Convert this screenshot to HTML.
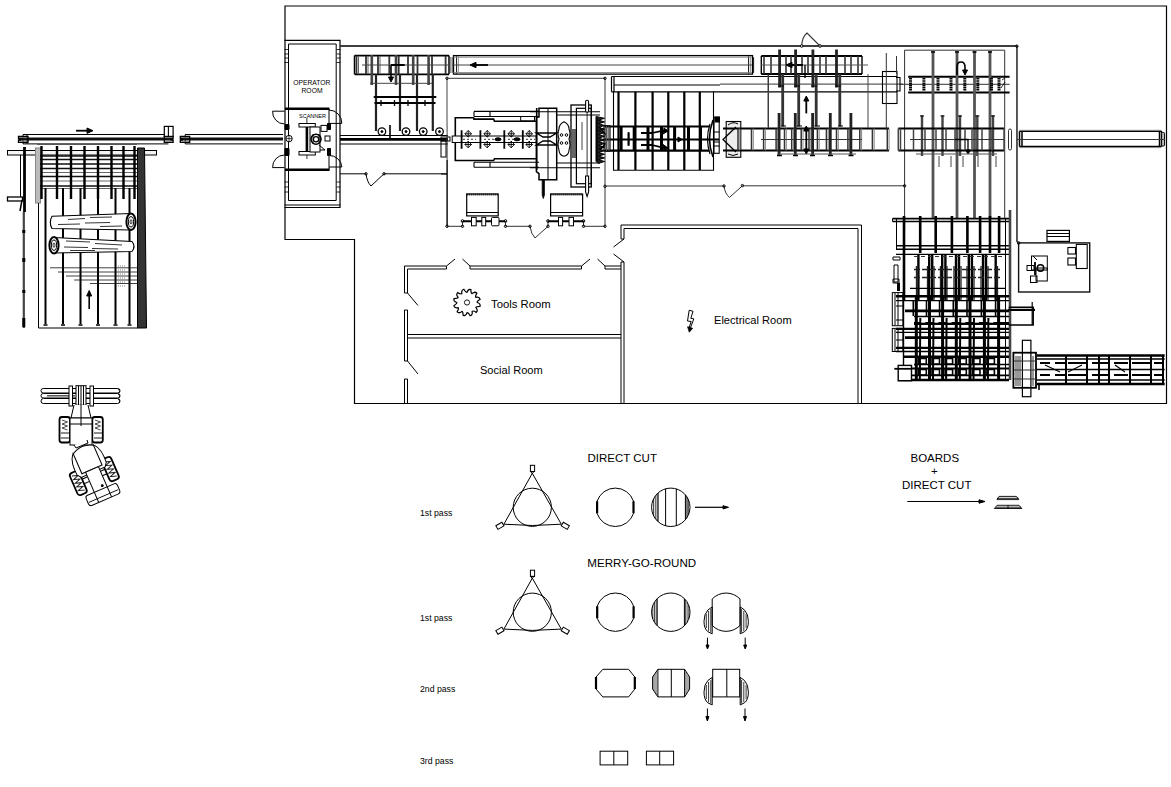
<!DOCTYPE html>
<html><head><meta charset="utf-8">
<style>
html,body{margin:0;padding:0;background:#fff;}
body{width:1171px;height:787px;overflow:hidden;}
svg{display:block;}
text{font-family:"Liberation Sans",sans-serif;fill:#000;}
</style></head><body>
<svg width="1171" height="787" viewBox="0 0 1171 787">
<rect width="1171" height="787" fill="#fff"/>
<g fill="none" stroke="#000" stroke-width="1">
<!-- BUILDING OUTLINE -->
<path d="M285 239.5 V6 H1166.5 V403.5 H354.5 V239.5 Z" stroke-width="1.2"/>
<!-- interior top line -->
<path d="M340 46 H1017 V242"/>
<!-- ROOMS -->
<path d="M621 262 V403 M624 262 V403 M621 225 H861.5 V403 M624 239 V228.5 H858 V403 M621 225 V239"/>
<path d="M404.5 266 V293 M407.5 269 V293 M404.5 310 V361 M407.5 310 V361 M404.5 379 V403 M407.5 379 V403"/>
<path d="M404.5 266 H446.5 M407.5 269 H446.5 M470 266 H581.5 M470 269 H581.5 M605 266 H621 M605 269 H621"/>
<path d="M407.5 334.5 H621 M407.5 338 H621"/>
<path d="M404.5 293 H407.5 M404.5 310 H407.5 M404.5 361 H407.5 M404.5 379 H407.5 M446.5 266 V269 M470 266 V269 M581.5 266 V269 M605 266 V269 M621 239 H624 M621 262 H624" stroke-width="1"/>
<path d="M407.5 293 L418 305.5 M407.5 361 L418 374 M446.5 266 L455 259 M462.5 259 L470 266 M581.5 266 L590 259 M597.5 259 L605 266 M624 239 L613.5 247 M613.5 254 L624 262"/>
</g>
<text x="491" y="308" font-size="11.3">Tools Room</text>
<text x="480" y="374" font-size="11.05">Social Room</text>
<text x="714" y="324" font-size="11.1">Electrical Room</text>
<text x="293.2" y="85" font-size="6.75" fill="#222">OPERATOR</text>
<text x="301.5" y="93" font-size="6.75" fill="#222">ROOM</text>
<text x="299" y="117.5" font-size="5.5" fill="#222">SCANNER</text>
<text x="587.5" y="462" font-size="11.5">DIRECT CUT</text>
<text x="587.3" y="566.5" font-size="11.6">MERRY-GO-ROUND</text>
<text x="910.5" y="461.5" font-size="11.5">BOARDS</text>
<text x="931" y="475" font-size="11.5">+</text>
<text x="902" y="488.5" font-size="11.5">DIRECT CUT</text>
<text x="420" y="516" font-size="8.7">1st pass</text>
<text x="420" y="621" font-size="8.7">1st pass</text>
<text x="420" y="692" font-size="8.7">2nd pass</text>
<text x="420" y="764" font-size="8.7">3rd pass</text>

<!-- LEFT INFEED DECK -->
<g fill="none" stroke="#000" stroke-width="1">
<path d="M23 134.5 H164.3 M23 143.9 H168.4 M23 134.5 V143.9 M27 134.5 V143.9" />
<path d="M18.5 139 H173" stroke-width="3.2" stroke="#111"/>
<path d="M18.5 136.4 H28 V142.4 H18.5 V140.2 H20.5 V138.7 H18.5 Z" fill="none" stroke-width="1.3"/>
<path d="M19.5 137.6 H27 M19.5 141.3 H27" stroke="#777" stroke-width="0.8"/>
<path d="M164.3 136.4 H173.1 V138.7 H171 V140.2 H173.1 V142.4 H164.3 Z" fill="none" stroke-width="1.3"/>
<path d="M165.5 137.6 H172 M165.5 141.3 H172" stroke="#777" stroke-width="0.8"/>
<rect x="164.3" y="126.4" width="8.8" height="10" fill="#fff" stroke-width="1.2"/>
<path d="M168.4 126.4 V136.4" stroke-width="1.1"/>
<rect x="7.5" y="150.5" width="149" height="4.5" fill="#f4f4f4"/>
<rect x="7.5" y="197" width="15" height="4" fill="#fff" stroke-width="1.3"/>
<path d="M20.5 155 V197" />
<path d="M24.5 147 V212" stroke-width="2.8"/><path d="M23.8 212 V328" stroke-width="2.2" stroke="#444"/><path d="M23.8 230 V233 M23.8 258 V262 M23.8 290 V293 M23.8 318 V327" stroke-width="3" stroke="#000"/>
<path d="M22 200 L20 211" stroke-width="1.5"/>
<rect x="35.5" y="148" width="5" height="55" fill="#bbb" stroke="#888"/>
<path d="M38.5 203 V328 H138" />
<path d="M37 144.5 H137" stroke="#555"/>
<path d="M40 156 H137 M40 159.5 H137 M40 164 H137 M40 168.5 H137 M40 176.5 H137 M40 186 H137" stroke="#111" stroke-width="1.5"/><path d="M40 172.5 H137 M40 181 H137 M40 188.5 H137" stroke="#666" stroke-width="1"/>
<path d="M41.5 146 V199 M57 146 V199 M71 146 V199 M84.5 146 V199 M98 146 V199 M111.5 146 V199 M123.5 146 V199 M134.5 146 V199" stroke-width="2.4"/>
<path d="M45.5 188 V324 M63 188 V324 M80.5 188 V324 M98 188 V324 M115.5 188 V324 M129.5 188 V324" stroke-width="2"/>
<path d="M43.5 325 H47.5 M61 325 H65 M78.5 325 H82.5 M96 325 H100 M113.5 325 H117.5 M127.5 325 H131.5" stroke-width="1.5"/>
<path d="M137.5 148 H144.5 L146.5 328 H137.5 Z" fill="#333" stroke="#000"/>
<path d="M50 267.8 H137 M58 272 H137 M66 276 H137 M74 280 H137 M90 283.5 H137" stroke-width="0.8" stroke="#111"/><path d="M118 266 H126 M118 270 H126 M118 274 H126 M118 278 H126 M118 282 H126 M118 286 H126" stroke="#888" stroke-width="1" stroke-dasharray="1 1"/>
<path d="M89.2 309 V295" stroke-width="1.6"/>
<path d="M86.7 296 L89.2 290.5 L91.7 296 Z" fill="#000"/>
<path d="M76 130.7 H88" stroke-width="1.8"/>
<path d="M87 128 L93 130.7 L87 133.4 Z" fill="#000"/>
<!-- logs -->
<path d="M52 216.2 L131 213.5 L131 230 L52 228.5 Q48.5 222.3 52 216.2 Z" fill="#fff" stroke-width="1.1"/>
<ellipse cx="131" cy="221.8" rx="4.6" ry="8.2" fill="#fff" stroke-width="2"/>
<ellipse cx="131" cy="221.8" rx="2.6" ry="5.2" stroke-width="1"/>
<ellipse cx="131" cy="221.8" rx="1" ry="2.2" stroke-width="0.8"/>
<path d="M68 219.5 L85 218.5 M90 217.5 L112 217 M58 224.5 L80 224 M85 223 L110 222.5 M100 226.5 L122 226" stroke-width="0.8"/>
<path d="M54 237.5 L132 241.5 Q136 246.5 132 251.5 L54 253 Z" fill="#fff" stroke-width="1.1"/>
<ellipse cx="54" cy="245.2" rx="4.6" ry="8.2" fill="#fff" stroke-width="2"/>
<ellipse cx="54" cy="245.2" rx="2.6" ry="5.2" stroke-width="1"/>
<ellipse cx="54" cy="245.2" rx="1" ry="2.2" stroke-width="0.8"/>
<path d="M66 241 L90 242 M95 243.5 L122 245 M64 247 L88 247.5 M92 248.5 L118 249 M70 250.5 L95 250.5" stroke-width="0.8"/>
</g>
<!-- SECOND CONVEYOR -->
<g fill="none" stroke="#000" stroke-width="1">
<path d="M185.2 134.5 H283 M185.2 143.9 H283 M185.2 134.5 V143.9" />
<path d="M180.3 139 H283" stroke-width="3.2" stroke="#111"/>
<path d="M180.3 136.4 H189.7 V142.4 H180.3 V140.2 H182.3 V138.7 H180.3 Z" fill="none" stroke-width="1.3"/>
<path d="M181.5 137.6 H189 M181.5 141.3 H189" stroke="#777" stroke-width="0.8"/>
</g>

<!-- OPERATOR ROOM -->
<g fill="none" stroke="#000" stroke-width="1">
<path d="M284.5 40.3 H340 V207.5 H284.5" stroke-width="1.2"/>
<path d="M288.5 200.5 V44 H336.2 V200.5 H288.5"/>
<path d="M284.5 205 H340.5"/>
<path d="M284.5 49.5 H288.5 M284.5 54 H288.5 M284.5 58 H288.5 M284.5 62.5 H288.5 M336.5 49.5 H340.5 M336.5 54 H340.5 M336.5 58 H340.5 M336.5 62.5 H340.5" stroke-width="0.8"/>
<path d="M284.5 182 H288.5 M284.5 187 H288.5 M284.5 192 H288.5 M336.5 182 H340.5 M336.5 187 H340.5 M336.5 192 H340.5" stroke-width="0.8"/>
<path d="M285 108.8 H329.5 M285 169.7 H329.5" stroke-width="2.4"/>
<path d="M329 109 V124 M329 155 V170"/>
<path d="M327.5 123.5 H330.5 V129.5 H327.5 Z M327.5 148.5 H330.5 V155.5 H327.5 Z M285 124.5 H289 V129.5 H285 Z M285 148.5 H289 V155.5 H285 Z" fill="#000"/>
<path d="M284.5 111.2 H272.6 A12 12 0 0 0 284.5 124"/>
<path d="M284.5 167.6 H272.6 A12 12 0 0 1 284.5 155"/>
<path d="M329 110 A13 13 0 0 1 341.8 123.4 H329"/>
<path d="M329 155.4 A13 12 0 0 1 341.8 167 H329"/>
<circle cx="289" cy="138.6" r="3.2" fill="#fff"/>
<path d="M286 138.6 H292 M289 135.5 V141.5" stroke-width="0.7"/>
<!-- scanner machine -->
<path d="M306.9 123.4 V153" stroke-width="2.6"/>
<path d="M306.9 118 V159" stroke-width="0.8"/>
<rect x="299" y="123.5" width="16.3" height="3.5" fill="#fff"/>
<rect x="299" y="151.5" width="16.3" height="3.5" fill="#fff"/>
<rect x="310" y="127" width="10" height="25" fill="#fff"/>
<circle cx="316" cy="139.2" r="5" stroke-width="1.6"/>
<circle cx="316" cy="139.2" r="2.6" stroke-width="1.2"/>
<path d="M313 134 V144 M319 134 V144" stroke-width="0.8"/>
<rect x="321" y="125.4" width="6" height="6"/>
<rect x="325" y="136" width="5" height="5"/>
<path d="M319 145 L325 150 H320"/>
</g>
<g fill="none" stroke="#000" stroke-width="1">
<path d="M340.5 46 H1017" />
<path d="M340 135.5 H448 M340 144 H448" />
<path d="M340 139.3 H448" stroke-width="2.8"/>
<path d="M340 173.8 H366 Q367 182 371 186 L384 173.8 H447" />
<circle cx="366" cy="173.8" r="1.2"/><circle cx="384" cy="173.8" r="1.2"/>

</g>

<!-- TOP-LEFT EQUIPMENT BLOCK -->
<g fill="none" stroke="#000" stroke-width="1">
<path d="M354.5 55.6 H449 M354.5 74.3 H449" stroke-width="1.8"/>
<path d="M354.5 55.6 V74.3 M449 55.6 V74.3" stroke-width="1.5"/>
<path d="M356.5 56 V74 M366 56 V74 M378 56 V74 M389.3 56 V74 M398.7 56 V74 M408 56 V74 M417.5 56 V74 M432 56 V74 M445.6 56 V74" stroke="#333" stroke-width="1.8"/><path d="M358.5 56 V74 M368 56 V74 M380 56 V74" stroke="#666" stroke-width="1"/>
<path d="M362 65 H449" stroke="#444"/>
<path d="M371.8 55 V85 M396 55 V85 M413.2 55 V85 M428.6 55 V85" stroke="#444" stroke-width="2.6"/>
<path d="M376 74 V131 M400 74 V131 M417 74 V131 M432.8 74 V131" stroke="#222" stroke-width="2.2"/>
<path d="M391 65 H404.7" stroke-width="2"/>
<path d="M391 65 V78" stroke-width="1.6"/>
<path d="M388.5 77 L391 82 L393.5 77 Z" fill="#000"/>
<path d="M370 83.3 H432" stroke="#444"/>
<path d="M374.5 97 H435.5" stroke-width="2" stroke-linecap="round"/>
<path d="M374.5 103 H435.5" stroke-width="1.8"/>
<path d="M381 100 V106 M394.5 100 V106 M408 100 V106 M425 100 V106" stroke-width="1.3"/>
<path d="M447 78 V126" stroke="#444"/>
<circle cx="447" cy="78.3" r="1.2"/>
<path d="M447 78.3 H605 V226.3" stroke="#333"/>
<circle cx="605" cy="78.3" r="1.2"/>
<circle cx="381.9" cy="131.6" r="3.8" stroke-width="1.3" fill="#fff"/>
<circle cx="406" cy="131.6" r="3.8" stroke-width="1.3" fill="#fff"/>
<circle cx="423.2" cy="131.6" r="3.8" stroke-width="1.3" fill="#fff"/>
<circle cx="439.5" cy="131.6" r="3.8" stroke-width="1.3" fill="#fff"/>
<circle cx="381.9" cy="131.6" r="1" fill="#000"/><circle cx="406" cy="131.6" r="1" fill="#000"/><circle cx="423.2" cy="131.6" r="1" fill="#000"/><circle cx="439.5" cy="131.6" r="1" fill="#000"/>
<path d="M390 125 V138" stroke-width="1.6"/>
<path d="M447.1 126 V160" stroke="#444"/>
<path d="M447.1 160 V226.3" stroke-width="1.4"/>
<rect x="441" y="137" width="9" height="4"/>
<rect x="441" y="141" width="5" height="16"/>
<path d="M441 174 H447"/>
</g>
<!-- LONG TOP CONVEYOR -->
<g fill="none" stroke="#000" stroke-width="1">
<rect x="453.5" y="55.6" width="299" height="18.5" stroke-width="1.3"/>
<path d="M456.5 55.6 V74 M748.5 56 V74" stroke="#222"/><path d="M458.3 56 V74 M750.3 56 V74 M453.5 57.2 H751.8 M453.5 72.6 H751.8" stroke="#888"/><path d="M752 57.5 H753.6 V72.5 H752" stroke-width="0.9"/>
<path d="M452 65 H752" stroke="#444"/>
<path d="M474 65 H488" stroke-width="1.8"/>
<path d="M476 62.3 L470 65 L476 67.7 Z" fill="#000"/><path d="M450.8 57 V73 M452.3 57 V73" stroke="#444" stroke-width="0.8"/>
</g>
<!-- HEADRIG -->
<g fill="none" stroke="#000" stroke-width="1">
<path d="M474 111.4 H539 M474 116.5 H539 M474 111.4 V116.5 M490 111.4 V116.5" stroke-width="1.1"/>
<path d="M474 162.3 H539 M474 167.2 H539 M474 162.3 V167.2 M490 162.3 V167.2" stroke-width="1.1"/>
<path d="M474 117.8 H455.3 V160.5 H493.6 L494.5 158.7 H536.5" stroke-width="1.6"/>
<path d="M474 117.8 V119.1 H493.6 L494.5 121.2 H536.5" stroke-width="1.6"/>
<rect x="520.7" y="116.5" width="13.8" height="4.5"/>
<path d="M536.7 108 V170" stroke-width="1.6"/>
<rect x="452.2" y="136" width="84" height="6.5" fill="#fff"/>
<path d="M461.6 130.2 V148.8 M480.4 130.2 V148.8 M504.3 130.2 V148.8 M522.8 130.2 V148.8" stroke-width="1.8"/>
<path d="M463 139.3 H476 M484 139.3 H500 M508 139.3 H518 M526 139.3 H535" stroke-dasharray="2 2" stroke-width="0.8"/>
<g stroke-width="0.9">
<path d="M468.2 130.5 L471.5 133.8 L468.2 137.1 L464.9 133.8 Z M468.2 130.5 V137.1 M464.9 133.8 H471.5"/>
<path d="M468.2 141.2 L471.5 144.5 L468.2 147.8 L464.9 144.5 Z M468.2 141.2 V147.8 M464.9 144.5 H471.5"/>
<path d="M487.2 130.5 L490.5 133.8 L487.2 137.1 L483.9 133.8 Z M487.2 130.5 V137.1 M483.9 133.8 H490.5"/>
<path d="M487.2 141.2 L490.5 144.5 L487.2 147.8 L483.9 144.5 Z M487.2 141.2 V147.8 M483.9 144.5 H490.5"/>
<path d="M511.2 130.5 L514.5 133.8 L511.2 137.1 L507.9 133.8 Z M511.2 130.5 V137.1 M507.9 133.8 H514.5"/>
<path d="M511.2 141.2 L514.5 144.5 L511.2 147.8 L507.9 144.5 Z M511.2 141.2 V147.8 M507.9 144.5 H514.5"/>
<path d="M529.2 130.5 L532.5 133.8 L529.2 137.1 L525.9 133.8 Z M529.2 130.5 V137.1 M525.9 133.8 H532.5"/>
<path d="M529.2 141.2 L532.5 144.5 L529.2 147.8 L525.9 144.5 Z M529.2 141.2 V147.8 M525.9 144.5 H532.5"/>
</g>
<ellipse cx="498" cy="139.3" rx="3" ry="1.5" fill="#000"/>
<ellipse cx="517" cy="139.3" rx="3" ry="1.5" fill="#000"/>
<!-- block 1 -->
<path d="M539 108.3 H556.7 V179.7 H539 V173.7 L536.4 171.7 V117 H539 Z" stroke-width="1.5"/>
<path d="M548 108.3 V179.7"/>
<path d="M536.5 133 H556.7 L550 137 H543 Z M536.5 145 H556.7 L550 141 H543 Z" stroke-width="1.4"/>
<path d="M542.2 179.7 H544.4 V195 L543.3 198.5 L542.2 195 Z" fill="#000" stroke-width="0.8"/>
<path d="M530 111.7 H600 M556.7 115 H600 M556.7 163 H600 M530 167.7 H600" stroke-width="1.1"/>
<!-- ornament -->
<path d="M564 121.7 Q569 124 569 129 Q571 134 569 139 Q571 145 569 150 Q569 155 564 156.3 Q559 155 559 150 Q557 145 559 139 Q557 134 559 129 Q559 124 564 121.7 Z" stroke-width="1.1"/>
<circle cx="561.5" cy="135" r="1.3"/><circle cx="566.5" cy="135" r="1.3"/><circle cx="561.5" cy="143" r="1.3"/><circle cx="566.5" cy="143" r="1.3"/>
<!-- block 2 -->
<rect x="571" y="105" width="20.3" height="82" stroke-width="1.3"/>
<rect x="576.4" y="108.3" width="14.9" height="75.4" stroke-width="1.2"/>
<rect x="585.6" y="100.3" width="3" height="12" rx="1.5" fill="#fff" stroke-width="1.1"/><path d="M587.1 112 V176" stroke-width="0.8"/><path d="M585.6 176 H588.6 V192 L587.1 196.5 L585.6 192 Z" fill="#fff" stroke-width="1.1"/>
<path d="M582 122 V150" stroke="#666" stroke-width="1.2"/>
<path d="M573 129 V158 M575 129 V158" stroke="#333" stroke-width="1.5"/>
<path d="M596 116.5 L604.5 118.3 L598.5 120.1 L604.5 121.9 L598.5 123.7 L604.5 125.5 L598.5 127.3 L604.5 129.1 L598.5 130.9 L604.5 132.7 L598.5 134.5 L604.5 136.3 L598.5 138.1 L604.5 139.9 L598.5 141.7 L604.5 143.5 L598.5 145.3 L604.5 147.1 L598.5 148.9 L604.5 150.7 L598.5 152.5 L604.5 154.3 L598.5 156.1 L604.5 157.9 L598.5 159.7 L604.5 161.5 L598.5 163.3 L596 161.5 Z" fill="#222" stroke-width="1"/><path d="M600 128 L606 135 M600 150 L606 143" stroke-width="1.5"/>
<path d="M597 118 V161" stroke-width="1.2"/>
<rect x="604" y="125.7" width="6" height="25.3" stroke-width="1.1"/>
<path d="M606 125.7 V151 M608 125.7 V151" stroke="#555"/>
<circle cx="605" cy="186.3" r="1.2"/>
<path d="M605 186 H724 Q725 194 729.5 197.4 L742.4 185.8 H905" stroke="#333"/>
<circle cx="724" cy="186" r="1.2"/><circle cx="742.4" cy="185.6" r="1.2"/>
<!-- boxes below headrig -->
<rect x="466.7" y="194" width="31.5" height="21.9" stroke-width="1.2"/>
<path d="M466.7 194.6 H498.2" stroke-width="2" stroke-dasharray="1 1"/>
<path d="M466.7 212.5 H498.2"/>
<rect x="550.6" y="194" width="32" height="21.9" stroke-width="1.2"/>
<path d="M550.6 194.6 H582.6" stroke-width="2" stroke-dasharray="1 1"/>
<path d="M550.6 212.5 H582.6"/>
<path d="M463 221.2 H505 M548 221.2 H583.5" stroke-width="2"/>
<rect x="471.5" y="217.4" width="4.7" height="8.4" fill="#fff"/><rect x="481.8" y="217.4" width="3.9" height="8.4" fill="#fff"/><rect x="491.5" y="217.4" width="7.5" height="8.4" rx="1" fill="#fff"/>
<rect x="558.5" y="217.4" width="4.1" height="8.4" fill="#fff"/><rect x="569" y="217.4" width="4.5" height="8.4" fill="#fff"/>
<circle cx="462.5" cy="221" r="1.3"/><circle cx="505.5" cy="221" r="1.3"/><circle cx="548" cy="221" r="1.3"/><circle cx="583.5" cy="221" r="1.3"/>
<path d="M447 226.3 H462.5 M505.5 226.3 H530 Q531 234 535 238 L548 226.3 M583.5 226.3 H605" stroke="#333"/>
<circle cx="462.5" cy="226.3" r="1.2"/><circle cx="505.5" cy="226.3" r="1.2"/><circle cx="530" cy="226.3" r="1.2"/><circle cx="548" cy="226.3" r="1.2"/><circle cx="583.5" cy="226.3" r="1.2"/><circle cx="605" cy="226.3" r="1.2"/><circle cx="447" cy="226.3" r="1.2"/>
<path d="M462.5 221 V226 M505.5 221 V226 M548 221 V226 M583.5 221 V226" stroke-width="0.8"/>
</g>

<!-- MIDDLE SECTION 605-905 -->
<g fill="none" stroke="#000" stroke-width="1">
<!-- long box -->
<path d="M611.5 76.5 H897 M611.5 91.8 H897 M611.5 76.5 V91.8 M614 77 V91.5" stroke-width="1.2"/>
<path d="M614 85 H720" stroke-width="1.2"/>
<path d="M720 84.1 H903" stroke="#333"/>
<!-- box frame with bars -->
<path d="M613.5 91.8 V170.2 H713.5 V91.8" stroke-width="1.1"/>
<path d="M618.5 91.8 V170 M635.4 91.8 V170 M652.6 91.8 V170 M668.3 91.8 V170 M684.3 91.8 V170 M699.8 91.8 V170" stroke-width="2.2"/>

<!-- conveyor strip -->
<path d="M605 126.5 H709 M605 150.6 H709" stroke-width="2.2"/>
<path d="M605 139.5 H719" stroke-width="2.2"/>
<path d="M606.5 126 V151 M609 126 V151" stroke="#555"/>
<path d="M621.1 126 V151 M634.2 126 V151 M648 126 V151 M661.5 126 V151 M674.6 126 V151 M688.5 126 V151 M700.5 126 V151" stroke-width="3"/>
<path d="M628.6 133 V145" stroke-width="2.2" stroke-linecap="round"/>
<path d="M641 133 H652 Q660 131 667 130.5 M641 145 H652 Q660 147 667 148.5" stroke-width="1.8"/>
<path d="M664 128 L668 131 L663 134 Z M664 150.5 L668 148 L663 144.5 Z" fill="#000"/>
<path d="M678 137 L682 139.5 L678 142 Z" fill="#000"/>
<!-- trimmer -->
<path d="M713 120 Q706 139 713 157" stroke-width="1.6"/>
<path d="M710 124 Q705 139 710 154" stroke-width="1.2"/>
<rect x="714" y="117.3" width="5.2" height="36" stroke-width="1.1"/>
<rect x="715" y="117" width="4.5" height="5" fill="#000"/>
<path d="M714 132 H719.5 M714 142 H719.5 M714 146 H719.5" stroke-width="1"/>
<!-- X box -->
<rect x="726.2" y="121.5" width="14.6" height="35.8" fill="#eee" stroke-width="1.1"/>
<path d="M736 127 L723 139.5 L736 152" stroke-width="1.3"/>
<path d="M728 125 Q733 121 738 124 M728 154 Q733 157 738 154" stroke-width="1"/>
<!-- right conveyor -->
<path d="M723 128.6 H889 M723 150.4 H889" stroke-width="2"/>
<path d="M738 128.6 V150.4 M751.5 128.6 V150.4 M763.6 128.6 V150.4 M776.1 128.6 V150.4 M784.5 128.6 V150.4 M791.7 128.6 V150.4 M801.2 128.6 V150.4 M809 128.6 V150.4 M817.4 128.6 V150.4 M826.4 128.6 V150.4 M836.5 128.6 V150.4 M847.9 128.6 V150.4 M859.8 128.6 V150.4 M872.4 128.6 V150.4 M887.3 128.6 V150.4" stroke="#333" stroke-width="1.5"/><path d="M739.8 128.6 V150.4 M753.3 128.6 V150.4 M765.4 128.6 V150.4 M777.9 128.6 V150.4 M786.3 128.6 V150.4 M793.5 128.6 V150.4 M803.0 128.6 V150.4 M810.8 128.6 V150.4 M819.1999999999999 128.6 V150.4 M828.1999999999999 128.6 V150.4 M838.3 128.6 V150.4 M849.6999999999999 128.6 V150.4 M861.5999999999999 128.6 V150.4 M874.1999999999999 128.6 V150.4 M889.0999999999999 128.6 V150.4" stroke="#888" stroke-width="1"/>
<path d="M761 139.5 H862" stroke="#333"/>
<path d="M768.5 74 V128" stroke="#333"/>
<!-- top right conveyor block -->
<path d="M761.3 56 H862 M761.3 74 H862" stroke-width="1.8"/>
<path d="M761.3 56 V74 M862 56 V74" stroke-width="1.4"/>
<path d="M764 56 V74 M771 56 V74 M786 56 V74 M791 56 V74 M802 56 V74 M808 56 V74 M820 56 V74 M826 56 V74 M845 56 V74 M851 56 V74 M858 56 V74" stroke="#333" stroke-width="1.6"/>
<path d="M761 65 H868" stroke="#555"/>
<path d="M791 65 H803" stroke-width="2"/><path d="M792 62.3 L786 65 L792 67.7 Z" fill="#000"/>
<path d="M805 65 V78" stroke-width="1.4"/>
<path d="M779.6 49.4 V87.5 M795.6 49.4 V87.5 M812.9 49.4 V87.5 M836.5 49.4 V87.5" stroke="#222" stroke-width="2.8"/>
<path d="M782.7 74 V126.4 M798.7 74 V126.4 M816.2 74 V126.4 M839.8 74 V126.4" stroke="#333" stroke-width="2.8"/>
<path d="M778 86 H784 M794 86 H800 M811 86 H817 M835 86 H841 M781 126 H786 M797 126 H802 M814.5 126 H820 M838 126 H843" stroke-width="1.2"/>
<path d="M768 127 V74 M868 74 V128" stroke="#444"/>
<!-- short chains lower -->
<path d="M779.1 113 V156 M795.3 113 V156 M812.6 113 V156 M830.3 113 V156 M850.9 113 V156" stroke="#222" stroke-width="2.8"/><path d="M777 155.5 H782 M793 155.5 H798 M810 155.5 H815 M828 155.5 H833 M848.5 155.5 H853.5" stroke-width="1.5"/>
<path d="M777 154 H856" stroke="#555"/>
<path d="M806.3 113.4 V100" stroke-width="1.8"/>
<path d="M803.8 101 L806.3 96 L808.8 101 Z" fill="#000"/>
<path d="M806.3 130 V150" stroke-width="1.8"/>
<path d="M803.8 131 L806.3 126 L808.8 131 Z M803.8 149 L806.3 154 L808.8 149 Z" fill="#000"/>
<!-- door top -->
<path d="M801.7 46 Q802 37 807 33 L820 46" stroke-width="1.1" stroke="#333"/><circle cx="801.7" cy="46" r="1.3" fill="#fff"/><circle cx="820" cy="46" r="1.3" fill="#fff"/>
<rect x="882.5" y="71.5" width="14.5" height="32" stroke-width="1.1"/>
<path d="M886.3 53 V130 M896.5 56 V74" stroke="#333"/>
<path d="M896 77.5 H900 V91 H896" stroke-width="1.1"/>
</g>

<!-- RIGHT SECTION 880-1017 upper -->
<g fill="none" stroke="#000" stroke-width="1">
<path d="M904.6 50.2 V230" stroke="#333"/>
<path d="M904.4 50.2 H1004.7 V218" stroke="#333"/>
<path d="M908.2 76.7 H1009.6 M908.2 92.4 H1009.6" stroke-width="2"/>
<path d="M900 84.3 H1009.6" stroke="#333"/>
<path d="M933 51 V218 M957 51 V218 M974.5 51 V218 M990 51 V218" stroke="#555" stroke-width="2.8"/>
<path d="M931 52 H935 M955 52 H959 M972.5 52 H976.5 M988 52 H992" stroke-width="1.4"/>
<g stroke-width="3" stroke="#000" stroke-dasharray="1.6 0.6">
<path d="M910.5 78 V91 M923.9 78 V91 M938 78 V91 M951 78 V91 M964.8 78 V91 M977.8 78 V91 M991.5 78 V91 M999 78 V91"/>
</g>
<path d="M1002 80 L1005 78 M1001 88 L1005 82" stroke-width="0.8"/>
<path d="M957 75 V67 Q957 62 961 62 Q965 62 965 67 V71" stroke-width="1.6"/>
<path d="M962.5 70 L965 75 L967.5 70 Z" fill="#000"/>
<path d="M922 115.3 V156 M942.5 115.3 V156 M960 115.3 V156 M977.3 115.3 V156 M993 115.3 V156" stroke="#444" stroke-width="2.4"/>
<path d="M920 116 H924 M940.5 116 H944.5 M958 116 H962 M975.3 116 H979.3 M991 116 H995" stroke-width="1.2"/>
<path d="M898.3 128.6 H1004.2 M898.3 150.4 H1004.2" stroke-width="2"/>
<path d="M898.3 128.6 V150.4 M900.5 128.6 V150.4 M913.5 128.6 V150.4 M925 128.6 V150.4 M936 128.6 V150.4 M946 128.6 V150.4 M955 128.6 V150.4 M965 128.6 V150.4 M972 128.6 V150.4 M982 128.6 V150.4 M992 128.6 V150.4 M1004 128.6 V150.4" stroke="#444" stroke-width="1.5"/>
<path d="M910 139.5 H1004" stroke="#333"/>
<path d="M955 139.5 H968 V150" stroke-width="1.3"/>
<path d="M965.5 150 L968 154 L970.5 150 Z" fill="#000"/>
<path d="M916 154 H997" stroke="#555"/>
<path d="M939 156 V167 M951 156 V167 M963 156 V167 M978 156 V167 M996 156 V167" stroke="#444"/>
<rect x="1008.5" y="129" width="3" height="21" rx="1.5" stroke="#333"/>
<path d="M1016.9 46 V242" stroke="#333"/>
<circle cx="1016.9" cy="46.2" r="1.2"/>
<circle cx="904.6" cy="185.8" r="1.2"/>
<path d="M1019.5 131.3 H1161.6 M1019.5 146.6 H1161.6 M1019.5 131.3 V146.6 M1022 131.3 V146.6 M1159.5 131.3 V146.6 M1161.6 131.3 V146.6" stroke-width="1.5"/><path d="M1019.5 130.3 H1161 M1019.5 147.6 H1161" stroke="#888" stroke-width="1"/><rect x="1161.6" y="132.5" width="3" height="13.5" rx="1" fill="#bbb" stroke-width="1"/>
<path d="M1017 139.5 H1165" stroke="#333"/>
</g>
<!-- RIGHT SECTION lower dense -->
<g fill="none" stroke="#000" stroke-width="1">
<path d="M892.5 218.6 H1009 M892.5 221.5 H1009" stroke-width="1.6"/>
<path d="M892.5 218.6 V221.5" />
<path d="M896 245.7 H1009 M896 249.2 H1009" stroke-width="1.6"/>
<path d="M896 254.4 H1010" stroke-width="1.2"/>
<path d="M896.5 218 V250" />
<path d="M904 216 V300 M920.2 216 V253 M935.7 216 V253 M951.9 216 V253 M967.4 216 V253 M980.1 216 V253 M990 216 V253 M999.1 216 V253" stroke-width="2.6"/>
<path d="M1005.5 218 V380" />
<path d="M1010 210 V380" stroke="#444" stroke-width="2.6"/>
<path d="M918.4 254 V300 M929.2 254 V300 M932.2 254 V300 M942.2 254 V300 M945.4 254 V300 M956 254 V300 M959 254 V300 M968.8 254 V300 M971.9 254 V300 M983 254 V300 M986 254 V300 M995.7 254 V300" stroke-width="2.4"/><path d="M916.5 266 V300 M927.5 266 V300 M934 266 V300 M940.5 266 V300 M947 266 V300 M954 266 V300 M961 266 V300 M967 266 V300 M974 266 V300 M981 266 V300 M988 266 V300 M997.5 266 V300" stroke-width="1.3" stroke="#222"/>
<path d="M914 269.4 H1002 M914 277.4 H1002" stroke="#222" stroke-width="1.5" stroke-dasharray="6 2"/><path d="M914 256.5 H1002" stroke="#333" stroke-width="1.2" stroke-dasharray="4 3"/>
<path d="M910 288.4 H1005" stroke-width="1.4"/>
<path d="M893 257 H900 V260 H893 Z M894 265 H898 V282 H894 Z M893 279 H899 V283 H893 Z" />
<path d="M898.5 283 V291" stroke-width="3"/>
<path d="M896 296.2 H1009" stroke-width="2.6"/><path d="M896 300.6 H1009" stroke-width="1.2"/><path d="M905 310.8 H1009" stroke-width="2.8"/><path d="M914 316.5 H1009" stroke-width="1.6"/><path d="M914 323.5 H1009" stroke-width="3.2"/><path d="M896 328.8 H1009" stroke-width="2.2"/><path d="M896 332.4 H1009" stroke-width="1.2"/><path d="M905 337.6 H1009" stroke-width="2.8"/><path d="M896 347.9 H1009" stroke-width="2.2"/><path d="M896 351.5 H1009" stroke-width="1.4"/><path d="M903 356.8 H1009" stroke-width="2.4"/><path d="M914 364.5 H1009" stroke-width="1.4"/><path d="M911 368.5 H1009" stroke-width="2.2"/><path d="M911 375.3 H1009" stroke-width="1.8"/><path d="M898 380 H1009" stroke-width="2.6"/>
<path d="M916.3 296 V381 M929.5 296 V381 M942.6 296 V381 M956.3 296 V381 M970 296 V381 M984.4 296 V381 M998.6 296 V381" stroke-width="3"/><path d="M920.3 318 L919.8 381 M933.5 318 L933.0 381 M946.6 318 L946.1 381 M960.3 318 L959.8 381 M974 318 L973.5 381 M988.4 318 L987.9 381" stroke-width="2"/><path d="M913.3 300 V316 M926.5 300 V316 M939.6 300 V316 M953.3 300 V316 M967 300 V316 M981.4 300 V316 M995.6 300 V316" stroke-width="1.6"/><g stroke="#fff" stroke-width="1.4"><path d="M921.3 322 H925.3"/><path d="M934.5 322 H938.5"/><path d="M947.6 322 H951.6"/><path d="M961.3 322 H965.3"/><path d="M975 322 H979"/><path d="M989.4 322 H993.4"/></g><g stroke-width="1.6"><path d="M918.8 358.5 H926.3 V364 H918.8 Z M918.8 369.5 H926.3 V375 H918.8 Z"/><path d="M932.0 358.5 H939.5 V364 H932.0 Z M932.0 369.5 H939.5 V375 H932.0 Z"/><path d="M945.1 358.5 H952.6 V364 H945.1 Z M945.1 369.5 H952.6 V375 H945.1 Z"/><path d="M958.8 358.5 H966.3 V364 H958.8 Z M958.8 369.5 H966.3 V375 H958.8 Z"/><path d="M972.5 358.5 H980 V364 H972.5 Z M972.5 369.5 H980 V375 H972.5 Z"/><path d="M986.9 358.5 H994.4 V364 H986.9 Z M986.9 369.5 H994.4 V375 H986.9 Z"/></g>
<rect x="892.3" y="292.6" width="10.6" height="33.1"/>
<path d="M895 293 V325 M898 293 V325"/>
<rect x="892.3" y="328.4" width="10.6" height="23.1"/>
<path d="M895 329 V351 M898 329 V351"/>
<path d="M903.5 296 V380" stroke-width="1.4"/>
<rect x="898.2" y="365.4" width="13.3" height="15.3" stroke-width="1.4" fill="#fff"/>
<path d="M894.3 368.8 H911" stroke-width="1.8"/>
<path d="M896 306 H903 M896 320 H903 M896 340 H903" stroke-width="1"/>
<path d="M1008.8 307.2 H1033.2 V325 H1008.8" stroke-width="1.5"/>
<path d="M1008 309.9 H1035" stroke-width="2.2"/>
<path d="M1032.2 302 V325" stroke-width="1.2"/>
<!-- bottom right conveyor -->
<rect x="1013.4" y="352.7" width="22.6" height="35.1" stroke-width="1.8"/>
<rect x="1022.4" y="340.3" width="8.5" height="56.4" stroke-width="1.2" fill="none"/>
<path d="M1016 356 V386 M1018 356 V386 M1020 356 V386 M1033 356 V386" stroke-width="1" stroke="#333"/>
<path d="M1014 361 H1036 M1014 370 H1036 M1014 379 H1036" stroke-width="1.2" stroke="#333"/>
<path d="M1036.8 355.5 H1164.7 M1036.8 384 H1164.7" stroke-width="2.6"/>
<path d="M1036.8 359 H1164.7 M1036.8 380 H1164.7" stroke-width="1.4"/>
<path d="M1036.8 369.5 H1164.7" stroke-width="1.6"/>
<path d="M1040 363 H1050 M1055 363 H1065 M1068 363 H1088 M1092 363 H1110 M1114 363 H1128 M1132 363 H1150 M1154 363 H1162 M1040 375 H1050 M1055 375 H1065 M1068 375 H1088 M1092 375 H1110 M1114 375 H1128 M1132 375 H1150 M1154 375 H1162" stroke-width="1.8"/>
<path d="M1066 356 V384 M1087 356 V384 M1099 356 V384 M1109 356 V384 M1130 356 V384 M1151 356 V384 M1163 356 V384" stroke-width="2"/>
<path d="M1045 365 L1060 372 M1068 372 L1082 365 M1115 365 L1125 372" stroke-width="1.2"/>
<path d="M1039 384 V390" stroke-width="1.6"/>
</g>
<!-- OFFICE -->
<g fill="none" stroke="#000" stroke-width="1">
<rect x="1018.6" y="242.9" width="71.1" height="49.1" stroke-width="1.4" stroke="#111"/><circle cx="1018.6" cy="242.9" r="1.3"/>
<rect x="1047" y="230.4" width="22.4" height="11" stroke-width="1.2"/>
<path d="M1047 233.5 H1069.4 M1047 236.5 H1069.4" stroke-width="1"/>
<rect x="1076.3" y="244.4" width="10.9" height="24.1" stroke-width="1.1"/>
<rect x="1067.9" y="247.5" width="7.6" height="6.5" stroke-width="1.1"/>
<rect x="1067.9" y="258" width="7.6" height="7" stroke-width="1.1"/>
<rect x="1031.5" y="256" width="15.8" height="14" stroke-width="1"/>
<rect x="1036" y="268" width="11.3" height="13" stroke-width="1"/>
<rect x="1030.5" y="276" width="6.5" height="6.5" stroke-width="1"/>
<rect x="1027" y="265.5" width="7" height="5"/>
<circle cx="1040.5" cy="268" r="3.2" stroke-width="1.5"/>
<path d="M1035 262 V275" stroke-width="1.8"/>
<path d="M1033 256 L1037 260"/>
</g>

<!-- ICONS -->
<g fill="none" stroke="#000" stroke-width="1">
<path d="M467.00 292.30 Q468.08 288.74 470.86 289.46 Q470.83 293.26 472.10 293.67 Q474.82 291.13 476.87 293.14 Q474.93 296.41 475.83 297.40 Q479.46 296.56 480.22 299.33 Q476.91 301.19 477.20 302.50 Q480.76 303.58 480.04 306.36 Q476.24 306.33 475.83 307.60 Q478.37 310.32 476.36 312.37 Q473.09 310.43 472.10 311.33 Q472.94 314.96 470.17 315.72 Q468.31 312.41 467.00 312.70 Q465.92 316.26 463.14 315.54 Q463.17 311.74 461.90 311.33 Q459.18 313.87 457.13 311.86 Q459.07 308.59 458.17 307.60 Q454.54 308.44 453.78 305.67 Q457.09 303.81 456.80 302.50 Q453.24 301.42 453.96 298.64 Q457.76 298.67 458.17 297.40 Q455.63 294.68 457.64 292.63 Q460.91 294.57 461.90 293.67 Q461.06 290.04 463.83 289.28 Q465.69 292.59 467.00 292.30 Z" stroke-width="1.2"/>
<circle cx="467" cy="302.5" r="2.6" stroke-width="0.9"/>
<path d="M689.2 310.2 L693 311.3 L690.8 318.3 L693.8 318.8 L690.6 327.5 L689.2 327.2 L691.2 321.5 L687.5 321 Z" stroke-width="1"/>
<path d="M687.6 326.8 L692.6 328.3 L689.3 332.2 Z" fill="#000" stroke-width="0.8"/>
</g>
<!-- LOADER -->
<g fill="none" stroke="#000" stroke-width="1">
<rect x="41" y="388.5" width="79" height="4.5" rx="2.2" fill="#fff"/>
<rect x="41" y="393.5" width="79" height="4.5" rx="2.2" fill="#fff"/>
<rect x="41" y="398.5" width="79" height="5" rx="2.5" fill="#fff"/>
<path d="M47 395.8 H75" stroke="#444" stroke-width="1.4"/>
<path d="M118 389 Q121 391 119 393 M118 394 Q121 396 119 398 M118 399 Q121 401 119 403" stroke-width="0.8"/>
<rect x="69" y="386" width="3.5" height="20" fill="#fff"/>
<rect x="76" y="385.7" width="10" height="19.5" fill="#fff"/>
<rect x="90" y="386" width="3.5" height="20" fill="#fff"/>
<path d="M81 386 V423 M78.5 386 V405 M83.5 386 V405"/>
<path d="M74 405 L71 418 H91 L88 405" fill="#fff"/>
<path d="M81 405 V423"/>
<rect x="59.5" y="417" width="10.5" height="25.5" rx="2.5" fill="#fff" stroke-width="1.8"/>
<rect x="92.3" y="417" width="10.5" height="25.5" rx="2.5" fill="#fff" stroke-width="1.8"/>
<path d="M62 420 L67.5 422 L62 424 L67.5 426 L62 428 L67.5 430 M95 420 L100.5 422 L95 424 L100.5 426 L95 428 L100.5 430" stroke="#333" stroke-width="0.9"/>
<path d="M61 433 H69 M61 438 H69 M94 433 H102 M94 438 H102" stroke-width="0.9"/>
<rect x="70" y="418" width="22" height="27" fill="#fff"/>
<path d="M70 424 H92 M81 418 V426"/>
<path d="M74 445 L76 448 L88 443 L87 440" fill="#fff"/>
<g transform="translate(94 474) rotate(-23.5)">
<rect x="-23" y="-10" width="10" height="24" rx="3" fill="#fff" stroke-width="1.8"/>
<rect x="12" y="-10" width="10" height="24" rx="3" fill="#fff" stroke-width="1.8"/>
<path d="M-21 -7 L-15 -5 L-21 -3 L-15 -1 L-21 1 L-15 3 L-21 5 L-15 7 L-21 9 L-15 11 M14 -7 L20 -5 L14 -3 L20 -1 L14 1 L20 3 L14 5 L20 7 L14 9 L20 11" stroke="#222" stroke-width="1"/>
<path d="M-13 0 H-7 M-13 5 H-7 M7 0 H12 M7 5 H12"/>
<path d="M-16 -6 Q-17 -20 -12 -26 Q-6 -30 0 -30 Q6 -30 12 -26 Q17 -20 16 -6 L13 -2 H-13 Z" fill="#fff"/>
<path d="M-11 -28 V-5 H11 V-28" />
<rect x="-7" y="-5" width="14" height="26" fill="#fff"/>
<circle cx="3" cy="14" r="0.9" fill="#000"/>
<path d="M-15 17 H15 Q17 17 17 20 V25 Q17 28 14 28 H-14 Q-17 28 -17 25 V20 Q-17 17 -15 17 Z" fill="#fff"/>
<path d="M-16 24 H16 M-7 17 V28 M7 17 V28"/>
</g>
</g>
<!-- LEGEND -->
<g fill="none" stroke="#000" stroke-width="1">
<circle cx="532.3" cy="507.3" r="19.1"/><path d="M532.3 473.3 L503.9 524.2 Q532.3 526.8 561.3 524.2 Z"/><rect x="530.4" y="465.3" width="4.2" height="6.2"/><path d="M530.8 471.5 H533.8 L532.3 473.8 Z"/><rect x="496.4" y="523.7" width="7" height="4.2" transform="rotate(-30 499.9 525.8)"/><rect x="561.8" y="523.7" width="7" height="4.2" transform="rotate(30 565.3 525.8)"/><path d="M597.10 501.18 A19.2 19.2 0 0 1 633.50 501.18 L633.50 513.42 A19.2 19.2 0 0 1 597.10 513.42 Z"/><path d="M597.1 501.3 V513.3 M633.5 501.3 V513.3" stroke-width="2.2"/><path d="M651.5999999999999 507.3 A19.2 19.2 0 1 1 690.0 507.3 A19.2 19.2 0 1 1 651.5999999999999 507.3 Z"/><path d="M653.50 498.97 V515.63 M655.30 495.97 V518.63 M657.10 493.85 V520.75 " stroke-width="0.7"/><path d="M686.08 495.68 V518.92 M687.25 497.40 V517.20 M688.42 499.67 V514.93 " stroke-width="0.7"/><path d="M658.10 492.90 V521.70 M665.60 488.82 V525.78 M676.30 488.90 V525.70 M685.40 494.83 V519.77 "/><path d="M695 507.3 H724" stroke-width="1.2"/><path d="M723 505.7 L728.5 507.3 L723 508.90000000000003 Z" fill="#000"/><circle cx="532.3" cy="612.2" r="19.1"/><path d="M532.3 578.2 L503.9 629.1 Q532.3 631.7 561.3 629.1 Z"/><rect x="530.4" y="570.2" width="4.2" height="6.2"/><path d="M530.8 576.4000000000001 H533.8 L532.3 578.7 Z"/><rect x="496.4" y="628.6" width="7" height="4.2" transform="rotate(-30 499.9 630.7)"/><rect x="561.8" y="628.6" width="7" height="4.2" transform="rotate(30 565.3 630.7)"/><path d="M597.20 606.08 A19.2 19.2 0 0 1 633.60 606.08 L633.60 618.32 A19.2 19.2 0 0 1 597.20 618.32 Z"/><path d="M597.2 606.2 V618.2 M633.6 606.2 V618.2" stroke-width="2.2"/><path d="M651.5999999999999 612.2 A19.2 19.2 0 1 1 690.0 612.2 A19.2 19.2 0 1 1 651.5999999999999 612.2 Z M657.20 598.65 V625.75 M684.40 598.65 V625.75 "/><path d="M652.83 605.43 V618.97 M654.50 602.05 V622.35 M656.17 599.77 V624.63 " stroke-width="0.7"/><path d="M685.43 599.77 V624.63 M687.10 602.05 V622.35 M688.77 605.43 V618.97 " stroke-width="0.7"/><path d="M712.2 599.0 A19.2 19.2 0 0 1 740.0 599.0 V625.4 A19.2 19.2 0 0 1 712.2 625.4 Z"/><path d="M712.2 606.9 L708.0 609.9 Q704.0 613.9 704.0 621.3 Q704.0 628.8 708.0 631.8 L712.2 633.8 Z"/><path d="M706.3 614 V628 M708.6 611 V631 M710.8 609 V632.5" stroke-width="0.8"/><path d="M740.2 606.9 L744.4 609.9 Q748.4 613.9 748.4 621.3 Q748.4 628.8 744.4 631.8 L740.2 633.8 Z"/><path d="M741.6 609 V632.5 M743.8 611 V631 M746.1 614 V628" stroke-width="0.8"/><path d="M707.5 637.6 V646 M745.2 637.6 V646" stroke-width="1"/><path d="M706 645 L707.5 649 L709 645 Z M743.7 645 L745.2 649 L746.7 645 Z" fill="#000"/><path d="M602.8 669.3 H628.6 L634.8 677 V689 L628.6 696.9 H602.8 L596 689 V677 Z"/><path d="M596 677 V689 M634.8 677 V689" stroke-width="2.2"/><path d="M657.9 669.3 H684.6 L689.6 677 V689 L684.6 696.9 H657.9 L652.6 689 V677 Z"/><path d="M657.9 669.3 V696.9 M671.3 669.3 V696.9 M684.6 669.3 V696.9"/><path d="M654 675 V691 M656 672 V694 M686 672 V694 M688 675 V691" stroke-width="0.7"/><rect x="712.7" y="669.3" width="27" height="27.6"/><path d="M726.8 669.3 V696.9"/><path d="M712.2 677.4 L708.0 680.4 Q704.0 684.4 704.0 692.1 Q704.0 699.9 708.0 702.9 L712.2 704.9 Z"/><path d="M706.3 685 V699 M708.6 682 V702 M710.8 680 V703.5" stroke-width="0.8"/><path d="M740.2 677.4 L744.4 680.4 Q748.4 684.4 748.4 692.1 Q748.4 699.9 744.4 702.9 L740.2 704.9 Z"/><path d="M741.6 680 V703.5 M743.8 682 V702 M746.1 685 V699" stroke-width="0.8"/><path d="M707.4 708.5 V717 M745 708.5 V717"/><path d="M705.9 716.5 L707.4 721 L708.9 716.5 Z M743.5 716.5 L745 721 L746.5 716.5 Z" fill="#000"/><path d="M707.4 640 V646" /><rect x="600.1" y="751.2" width="27.6" height="13.7"/><path d="M613.8 751.2 V764.9"/><rect x="646.4" y="751.2" width="27.2" height="13.7"/><path d="M659.7 751.2 V764.9"/><path d="M907.3 501.5 H980" stroke-width="1.2"/><path d="M979 499.8 L985 501.5 L979 503.2 Z" fill="#000"/><path d="M999 496.4 H1016.5 L1018.7 499.6 H997 Z M997 498.3 H1018.7" stroke-width="0.9"/><path d="M997 505.3 H1019 L1021.9 508.5 H994.4 Z M996 507.2 H1021 M1008 505.3 V508.5" stroke-width="0.9"/></g>
</svg>
</body></html>
